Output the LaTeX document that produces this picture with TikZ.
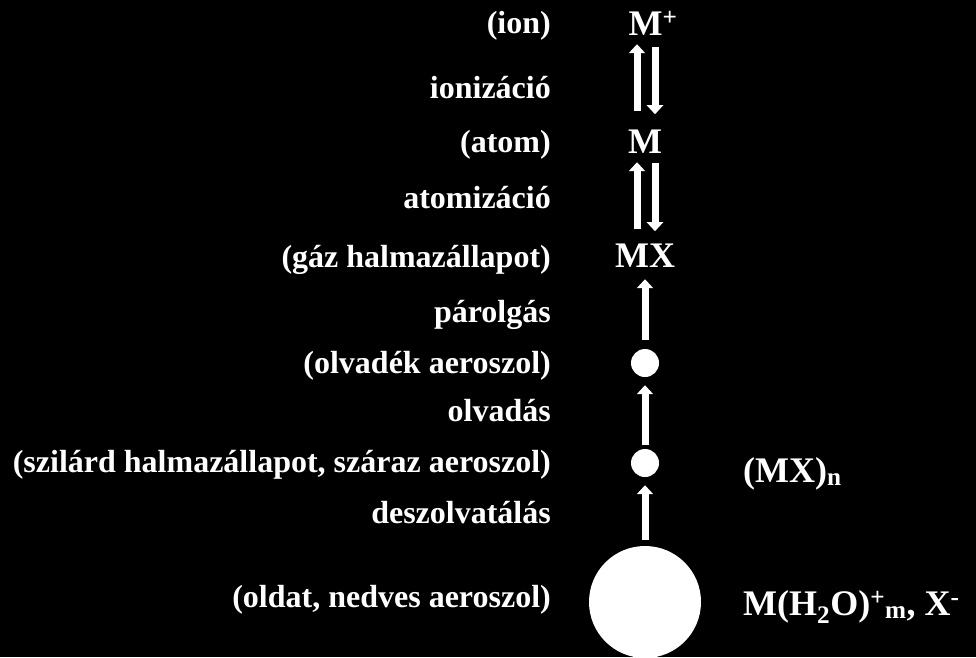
\documentclass[tikz,border=0pt]{standalone}
\usepackage{fontspec}
\setmainfont{Liberation Serif}
\usetikzlibrary{positioning,arrows.meta}
\tikzset{lbl/.style={anchor=base east,inner sep=0pt,text=white,font=\bfseries\fontsize{32}{36}\selectfont},
	 spc/.style={anchor=base,inner sep=0pt,text=white,font=\bfseries\fontsize{36}{40}\selectfont},
	 rlbl/.style={spc,anchor=base west},
	 drop/.style={circle,fill=white,inner sep=0pt},
	 flow/.style={white,line width=7pt,-{Triangle[width=16pt,length=9pt]}},
	 node distance = 1
	 }

\begin{document}
\begin{tikzpicture}[x=1pt,y=-1pt] % oldatcsepp utja a langig
	\fill[black] (0,0) rectangle (976,657);
	\useasboundingbox (0,0) rectangle (976,657);
	\node[spc] (ion) at (653,35) {M\textsuperscript{+}};
	\node[spc] (atom) at (645,153) {M};
	\node[spc] (gas) at (645,267) {MX};
	\node[drop,minimum size=28pt] (melt) at (645,363) {};
	\node[drop,minimum size=28pt] (solid) at (645,463) {};
	\node[drop,minimum size=112pt] (wet) at (645,602) {};

	\node[lbl] (lion) at (551,33) {(ion)};
	\node[lbl] (lioniz) at (551,98) {ionizáció};
	\node[lbl] (latom) at (551,152) {(atom)};
	\node[lbl] (latomiz) at (551,208) {atomizáció};
	\node[lbl] (lgas) at (551,267) {(gáz halmazállapot)};
	\node[lbl] (lvap) at (551,322) {párolgás};
	\node[lbl] (lmelt) at (551,373) {(olvadék aeroszol)};
	\node[lbl] (lmelting) at (551,421) {olvadás};
	\node[lbl] (lsolid) at (551,472) {(szilárd halmazállapot, száraz aeroszol)};
	\node[lbl] (ldesolv) at (551,523) {deszolvatálás};
	\node[lbl] (lwet) at (551,607) {(oldat, nedves aeroszol)};

	\node[rlbl] (mxn) at (743,482) {(MX)\textsubscript{n}};
	\node[rlbl] (hydr) at (743,615) {M(H\textsubscript{2}O)\textsuperscript{+}\textsubscript{m}, X\textsuperscript{-}};

	\draw[flow, shorten <=18pt, shorten >=9pt] ([xshift=-8pt]atom.north) -- ([xshift=-16pt]ion.south);
	\draw[flow, shorten <=12pt, shorten >=15pt] ([xshift=2pt]ion.south) -- ([xshift=10pt]atom.north);
	\draw[flow, shorten <=14pt, shorten >=9pt] ([xshift=-8pt]gas.north) -- ([xshift=-8pt]atom.south);
	\draw[flow, shorten <=10pt, shorten >=12pt] ([xshift=10pt]atom.south) -- ([xshift=10pt]gas.north);
	\draw[flow, shorten <=9pt, shorten >=12pt] (melt.north) -- (gas.south);
	\draw[flow, shorten <=4pt, shorten >=8pt] (solid.north) -- (melt.south);
	\draw[flow, shorten <=6pt, shorten >=8pt] (wet.north) -- (solid.south);
\end{tikzpicture}
\end{document}
